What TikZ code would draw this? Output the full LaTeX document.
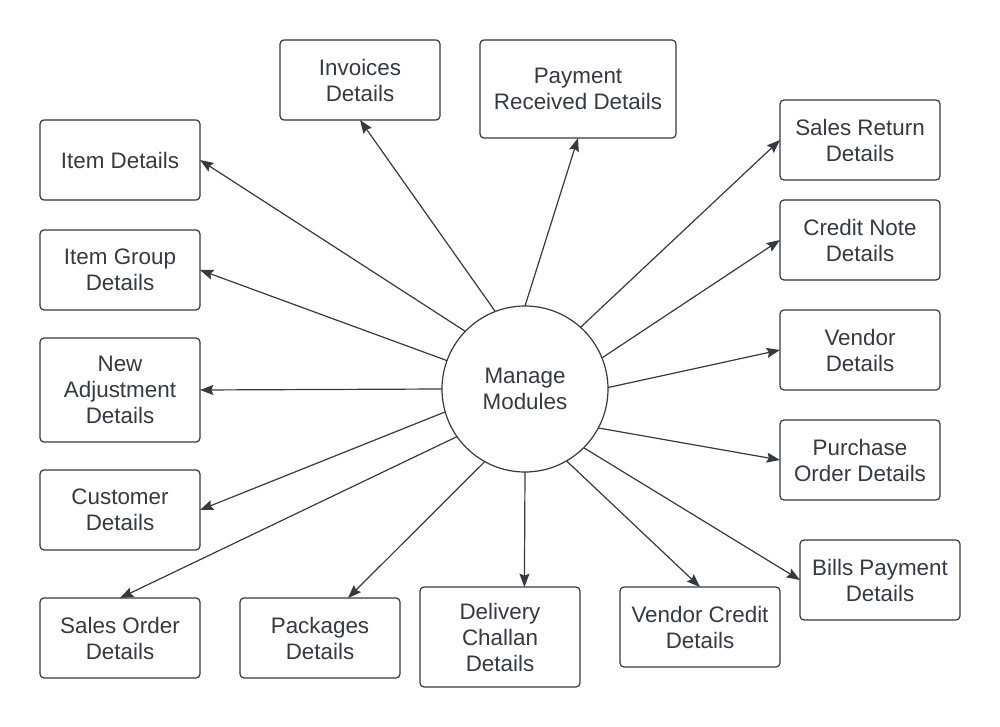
\documentclass[tikz,border=0pt]{standalone}
\usepackage{fontspec}
\setmainfont{Liberation Sans}
\usepackage{tikz}
\usetikzlibrary{arrows.meta}
\definecolor{ink}{RGB}{52,57,66}

\begin{document}
\begin{tikzpicture}[x=0.75pt,y=-0.75pt, font=\fontsize{16.8pt}{19.5pt}\selectfont, color=ink]
                \useasboundingbox (0,0) rectangle (1000,727);
                \node [draw, circle, line width=0.9pt, minimum size=124.5pt, inner sep=0, outer sep=0, align=center] (MM) at (525,389) {Manage\\Modules};
                \begin{scope}[every node/.style={draw, line width=0.9pt, rounded corners=3pt, minimum width=120pt, minimum height=60pt, inner sep=2pt, outer sep=0, align=center}]
                        \node (ID) at (120,160) {Item Details};
                        \node (IG) at (120,270) {Item Group\\Details};
                        \node [minimum height=78pt] (NA) at (120,390) {New\\Adjustment\\Details};
                        \node (CD) at (120,510) {Customer\\Details};
                        \node (SO) at (120,638) {Sales Order\\Details};
                        \node (PK) at (320,638) {Packages\\Details};
                        \node [minimum height=75pt] (DC) at (500,637) {Delivery\\Challan\\Details};
                        \node (VC) at (700,627) {Vendor Credit\\Details};
                        \node (BP) at (880,580) {Bills Payment\\Details};
                        \node (PO) at (860,460) {Purchase\\Order Details};
                        \node (VD) at (860,350) {Vendor\\Details};
                        \node (CN) at (860,240) {Credit Note\\Details};
                        \node (SR) at (860,140) {Sales Return\\Details};
                        \node [minimum width=147pt, minimum height=73.5pt] (PR) at (578,89) {Payment\\Received Details};
                        \node (IN) at (360,80) {Invoices\\Details};
                \end{scope}
                \begin{scope}[every path/.style={line width=0.9pt, ->, >={Stealth[length=10pt,width=7.5pt,inset=1.5pt]}}]
                        \draw (MM.136) -- (ID.east);
                        \draw (MM.160) -- (IG.east);
                        \draw (MM.180) -- (NA.east);
                        \draw (MM.196) -- (CD.east);
                        \draw (MM.215) -- (SO.north);
                        \draw (MM.241) -- (PK.55);
                        \draw (MM.270) -- (DC.64);
                        \draw (MM.300) -- (VC.north);
                        \draw (MM.315) -- (BP.west);
                        \draw (MM.332) -- (PO.west);
                        \draw (MM.1) -- (VD.west);
                        \draw (MM.22) -- (CN.west);
                        \draw (MM.48) -- (SR.west);
                        \draw (MM.90) -- (PR.south);
                        \draw (MM.111) -- (IN.south);
                \end{scope}
\end{tikzpicture}
\end{document}
